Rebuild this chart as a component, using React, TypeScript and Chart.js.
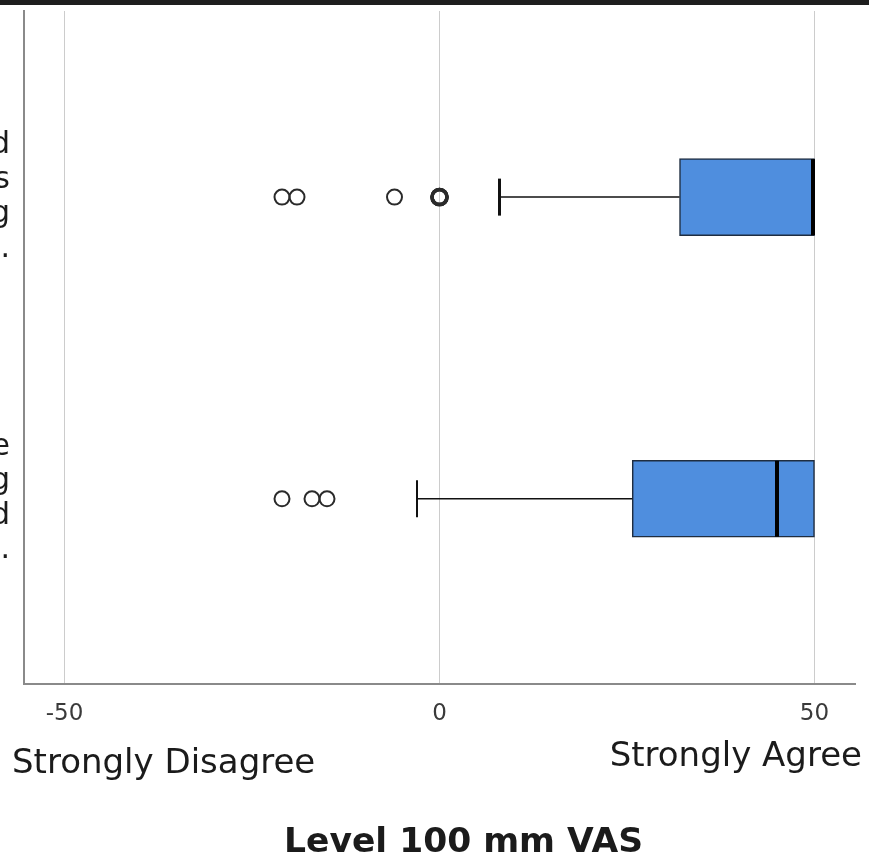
import React, { useEffect, useRef } from "react";
import { Chart, registerables } from "chart.js";

Chart.register(...registerables);

// ---- data ----
const categoryLabels: string[][] = [
  ["I feel that I have improved", "my clinical skills", "in managing", "obstetric emergencies."],
  ["The simulation scenario felt like", "a real clinical setting", "and was well organised", "overall."],
];
const q1Values = [32, 25.7];
const medianValues = [50, 45];
const q3Values = [50, 50];
const whiskerLowValues = [8, -3];
const whiskerHighValues = [50, 50];
const outliersCat0 = [-21, -19, -6, 0, 0, 0];
const outliersCat1 = [-21, -17, -15];
const xTickValues = [-50, 0, 50];
const xMin = -55.4;
const xMax = 55.4;
const yMin = -0.617;
const yMax = 1.614;
const leftEndLabel = "Strongly Disagree";
const rightEndLabel = "Strongly Agree";
const xTitle = "Level 100 mm VAS";

const FONT = '"DejaVu Sans", "Liberation Sans", sans-serif';

const outlierPoints = [
  ...outliersCat0.map((v) => ({ x: v, y: 0 })),
  ...outliersCat1.map((v) => ({ x: v, y: 1 })),
];
const dupCount = (p: { x: number; y: number }) =>
  outlierPoints.filter((q) => q.x === p.x && q.y === p.y).length;

const boxPlugin = {
  id: "boxWhiskers",
  afterDatasetsDraw(chart: any) {
    const { ctx, scales } = chart;
    const xs = scales.x;
    const ys = scales.y;
    ctx.save();
    q1Values.forEach((q1, i) => {
      const yc = ys.getPixelForValue(i);
      const cap = 18.5;
      // low whisker
      const lo = xs.getPixelForValue(whiskerLowValues[i]);
      const boxL = xs.getPixelForValue(q1);
      ctx.strokeStyle = "#111";
      ctx.lineWidth = 1.5;
      ctx.beginPath();
      ctx.moveTo(lo, yc);
      ctx.lineTo(boxL, yc);
      ctx.stroke();
      ctx.lineWidth = i === 0 ? 3 : 2;
      ctx.beginPath();
      ctx.moveTo(lo, yc - cap);
      ctx.lineTo(lo, yc + cap);
      ctx.stroke();
      // high whisker
      const hi = xs.getPixelForValue(whiskerHighValues[i]);
      const boxR = xs.getPixelForValue(q3Values[i]);
      if (hi > boxR + 0.5) {
        ctx.lineWidth = 1.5;
        ctx.beginPath();
        ctx.moveTo(boxR, yc);
        ctx.lineTo(hi, yc);
        ctx.stroke();
        ctx.lineWidth = 2;
        ctx.beginPath();
        ctx.moveTo(hi, yc - cap);
        ctx.lineTo(hi, yc + cap);
        ctx.stroke();
      }
      // median
      const m = xs.getPixelForValue(medianValues[i]);
      const shift = medianValues[i] >= q3Values[i] ? 1.5 : 0;
      ctx.strokeStyle = "#000";
      ctx.lineWidth = 4;
      ctx.beginPath();
      ctx.moveTo(m - shift, yc - 38);
      ctx.lineTo(m - shift, yc + 38);
      ctx.stroke();
    });
    ctx.restore();
  },
  afterDraw(chart: any) {
    const { ctx, chartArea } = chart;
    ctx.save();
    ctx.fillStyle = "#1b1b1b";
    ctx.textBaseline = "alphabetic";
    ctx.font = `34px ${FONT}`;
    ctx.textAlign = "left";
    ctx.fillText(leftEndLabel, chartArea.left - 12, chartArea.bottom + 89);
    ctx.textAlign = "right";
    ctx.fillText(rightEndLabel, chartArea.right + 7, chartArea.bottom + 82);
    ctx.font = `bold 34.5px ${FONT}`;
    ctx.textAlign = "center";
    ctx.fillText(xTitle, (chartArea.left + chartArea.right) / 2 + 24, chartArea.bottom + 168);
    ctx.restore();
  },
};

export default function App() {
  const ref = useRef<HTMLCanvasElement | null>(null);
  useEffect(() => {
    if (!ref.current) return;
    const chart = new Chart(ref.current, {
      type: "bar",
      data: {
        datasets: [
          {
            type: "bar",
            data: q1Values.map((q, i) => ({ y: i, x: [q, q3Values[i]] })) as any,
            backgroundColor: "#4f8ede",
            borderColor: "#1f2d40",
            borderWidth: 1.5,
            borderSkipped: false,
            barThickness: 77,
          } as any,
          {
            type: "scatter",
            data: outlierPoints,
            pointStyle: "circle",
            pointRadius: 7.5,
            pointBorderWidth: (c: any) => (c.raw && dupCount(c.raw) > 1 ? 3.5 : 2),
            pointBorderColor: "#2a2a2a",
            pointBackgroundColor: "rgba(0,0,0,0)",
          } as any,
        ],
      },
      options: {
        indexAxis: "y",
        responsive: false,
        animation: false,
        layout: { padding: { top: 8, right: 14, left: 0, bottom: 0 } },
        plugins: { legend: { display: false }, tooltip: { enabled: false } },
        scales: {
          x: {
            type: "linear",
            min: xMin,
            max: xMax,
            offset: false,
            afterBuildTicks: (s: any) => {
              s.ticks = xTickValues.map((v) => ({ value: v }));
            },
            afterFit: (s: any) => {
              s.height = 175;
              s.paddingLeft = 0;
              s.paddingRight = 0;
            },
            grid: { color: "#cccccc", lineWidth: 1, drawTicks: false, offset: false },
            border: { display: true, color: "#8a8a8a", width: 2 },
            ticks: {
              padding: 16,
              color: "#3a3a3a",
              font: { family: FONT, size: 23 },
              callback: (v: any) => String(v),
            },
          },
          y: {
            type: "linear",
            reverse: true,
            min: yMin,
            max: yMax,
            offset: false,
            afterBuildTicks: (s: any) => {
              s.ticks = categoryLabels.map((_, i) => ({ value: i }));
            },
            afterFit: (s: any) => {
              s.width = 24;
              s.paddingTop = 0;
              s.paddingBottom = 0;
            },
            grid: { display: false, drawTicks: false, offset: false },
            border: { display: true, color: "#8a8a8a", width: 2 },
            ticks: {
              padding: 14,
              color: "#1b1b1b",
              font: { family: FONT, size: 30, lineHeight: 1.15 },
              callback: (v: any) => categoryLabels[Math.round(v)] ?? "",
            },
          },
        },
      },
      plugins: [boxPlugin],
    } as any);
    return () => chart.destroy();
  }, []);
  return (
    <div
      style={{
        position: "fixed",
        left: 0,
        top: 0,
        width: 869,
        height: 859,
        background: "#fff",
        overflow: "hidden",
      }}
    >
      <canvas ref={ref} width={869} height={859} style={{ display: "block" }} />
      <div
        style={{ position: "absolute", left: 0, top: 0, width: 869, height: 5, background: "#1e1e1e" }}
      />
    </div>
  );
}
